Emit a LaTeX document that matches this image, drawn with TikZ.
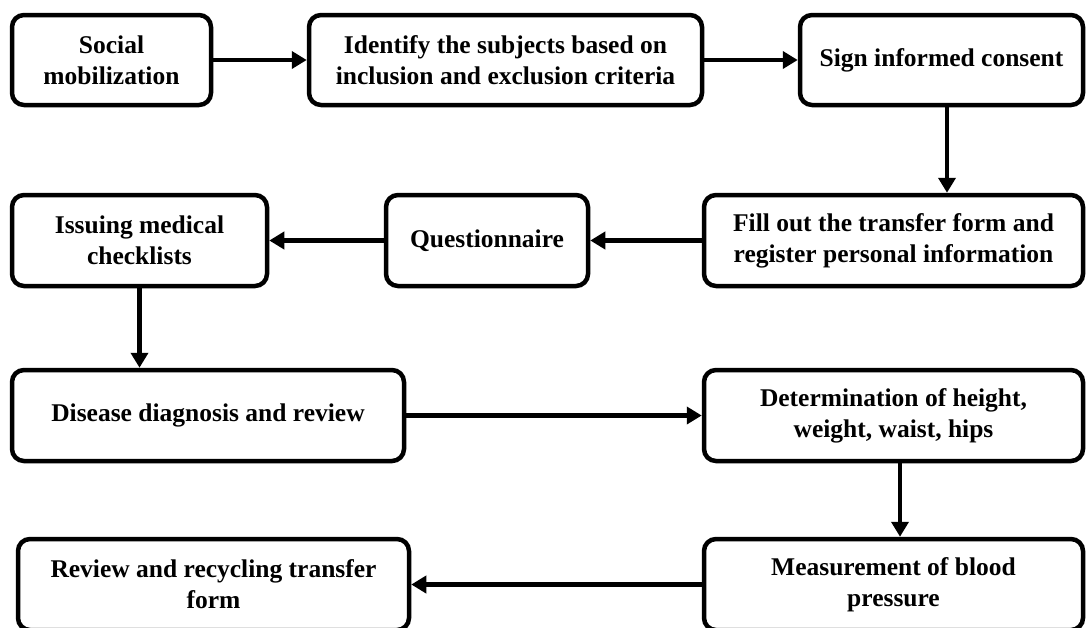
\documentclass[tikz,border=0pt]{standalone}
\usepackage{fontspec}
\setmainfont{Liberation Serif}
\usetikzlibrary{arrows.meta}
\begin{document}
\begin{tikzpicture}[x=1pt,y=-1pt,
  flowbox/.style={draw=black, line width=4.5pt, rounded corners=12pt, fill=white,
    align=center, inner sep=0pt, font=\fontsize{25.5}{31}\selectfont\bfseries},
  flowarrow/.style={line width=4.5pt, -{Triangle[length=15pt,width=17pt]}}]
\useasboundingbox[fill=white] (0,0) rectangle (1086,627);
% row 1
\node[flowbox, minimum width=199pt, minimum height=90pt] (social) at (111.5,60) {Social\\mobilization};
\node[flowbox, minimum width=393pt, minimum height=90pt] (identify) at (505.5,60) {Identify the subjects based on\\inclusion and exclusion criteria};
\node[flowbox, minimum width=283pt, minimum height=90pt] (sign) at (941.5,60) {Sign informed consent};
% row 2
\node[flowbox, minimum width=255pt, minimum height=91pt] (issuing) at (139.5,240.5) {Issuing medical\\checklists};
\node[flowbox, minimum width=202pt, minimum height=91pt] (quest) at (487,240.5) {Questionnaire};
\node[flowbox, minimum width=379pt, minimum height=91pt] (fill) at (893.5,240.5) {Fill out the transfer form and\\register personal information};
% row 3
\node[flowbox, minimum width=392pt, minimum height=91pt] (disease) at (208,415.5) {Disease diagnosis and review};
\node[flowbox, minimum width=379pt, minimum height=91pt] (determ) at (893.5,415.5) {Determination of height,\\weight, waist, hips};
% row 4
\node[flowbox, minimum width=391pt, minimum height=91pt] (review) at (213.5,584.5) {Review and recycling transfer\\form};
\node[flowbox, minimum width=379pt, minimum height=91pt] (measure) at (893.5,584.5) {Measurement of blood\\pressure};
% connectors
\draw[flowarrow] (social.east) -- (identify.west);
\draw[flowarrow] (identify.east) -- (sign.west);
\coordinate (signout) at ([xshift=5.5pt]sign.south);
\draw[flowarrow] (signout) -- (signout |- fill.north);
\draw[flowarrow] (fill.west) -- (quest.east);
\draw[flowarrow] (quest.west) -- (issuing.east);
\draw[flowarrow] (issuing.south) -- (issuing.south |- disease.north);
\draw[flowarrow] (disease.east) -- (determ.west);
\coordinate (determout) at ([xshift=6.5pt]determ.south);
\draw[flowarrow] (determout) -- (determout |- measure.north);
\draw[flowarrow] (measure.west) -- (review.east);
\end{tikzpicture}
\end{document}
